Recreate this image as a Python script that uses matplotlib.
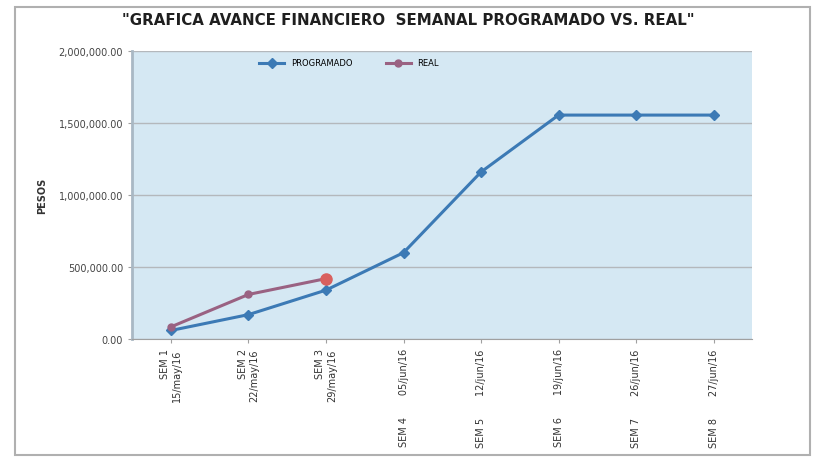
import matplotlib.pyplot as plt
from matplotlib.patches import Rectangle

# datos
semanas = ["SEM 1\n15/may/16", "SEM 2\n22/may/16", "SEM 3\n29/may/16",
           "SEM 4       05/jun/16", "SEM 5       12/jun/16", "SEM 6       19/jun/16",
           "SEM 7       26/jun/16", "SEM 8       27/jun/16"]
programado = [60000, 170000, 340000, 600000, 1160000, 1555000, 1555000, 1555000]
real = [85000, 310000, 420000]
y_ticks = [0, 500000, 1000000, 1500000, 2000000]
y_labels = ["0.00", "500,000.00", "1,000,000.00", "1,500,000.00", "2,000,000.00"]

fig = plt.figure(figsize=(8.16, 4.64), dpi=100)
ax = fig.add_axes([0.162, 0.267, 0.760, 0.621])
ax.set_facecolor("#d5e8f3")

x = list(range(len(semanas)))
ax.plot(x, programado, color="#3c7ab5", lw=2.2, marker="D", ms=5, label="PROGRAMADO", zorder=3)
ax.plot(x[:len(real)], real, color="#9a6282", lw=2.2, marker="o", ms=5,
        markevery=[0, 1], label="REAL", zorder=4)
ax.plot(x[len(real) - 1], real[-1], color="#d9605e", marker="o", ms=8, zorder=5)

ax.set_xlim(-0.5, len(semanas) - 0.5)
ax.set_ylim(0, 2000000)
ax.set_yticks(y_ticks)
ax.set_yticklabels(y_labels, fontsize=7, color="#444444")
ax.set_xticks(x)
ax.set_xticklabels(semanas, rotation=90, fontsize=7, color="#333333",
                   ha="center", va="top", multialignment="right")
ax.yaxis.grid(True, color="#b4b8bc", lw=1)
ax.set_axisbelow(True)
for s in ["top", "right"]:
    ax.spines[s].set_visible(False)
ax.spines["left"].set_color("#a9b8c4")
ax.spines["left"].set_linewidth(2)
ax.spines["bottom"].set_color("#a0a0a0")
ax.tick_params(axis="both", length=3, color="#a0a0a0")

ax.set_ylabel("PESOS", fontsize=7, fontweight="bold", color="#333333", labelpad=8)
ax.legend(loc="upper center", bbox_to_anchor=(0.35, 1.0), ncol=2, frameon=False,
          fontsize=6, handlelength=3, columnspacing=4)

fig.text(0.5, 0.955, "\"GRAFICA AVANCE FINANCIERO  SEMANAL PROGRAMADO VS. REAL\"",
         ha="center", va="center", fontsize=10.8, fontweight="bold", color="#1f1f1f")

fig.patches.append(Rectangle((0.018, 0.018), 0.975, 0.965, transform=fig.transFigure,
                             fill=False, ec="#b0b0b0", lw=1.5))

fig.savefig("out.png", dpi=100)
